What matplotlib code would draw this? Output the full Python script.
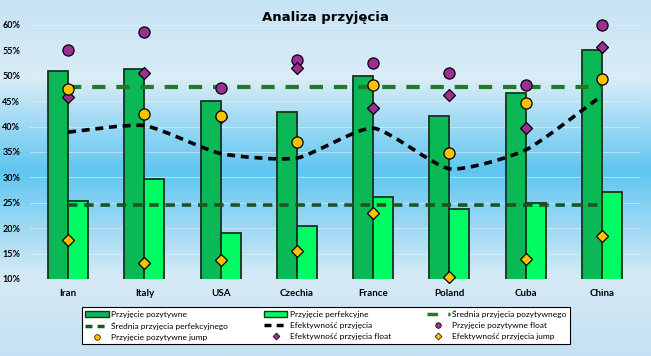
import numpy as np
import matplotlib
matplotlib.use('Agg')
from matplotlib import pyplot as plt
from matplotlib.path import Path
from matplotlib.patches import PathPatch, Patch
from matplotlib.lines import Line2D
from matplotlib.colors import LinearSegmentedColormap

countries = ['Iran', 'Italy', 'USA', 'Czechia', 'France', 'Poland', 'Cuba', 'China']
pozytywne = [50.9, 51.3, 45.0, 42.8, 50.0, 42.0, 46.6, 55.1]
perfekcyjne = [25.4, 29.7, 19.1, 20.4, 26.2, 23.8, 25.0, 27.2]
srednia_poz = 47.8
srednia_perf = 24.6
efektywnosc = [38.9, 40.2, 34.7, 33.8, 39.7, 31.7, 35.4, 46.1]
poz_float = [55.0, 58.6, 47.6, 53.1, 52.6, 50.6, 48.1, 60.0]
poz_jump = [47.4, 42.5, 42.1, 37.0, 48.1, 34.9, 44.6, 49.4]
ef_float = [45.9, 50.5, 41.8, 51.5, 43.6, 46.2, 39.7, 55.6]
ef_jump = [17.6, 13.1, 13.7, 15.5, 23.0, 10.45, 13.9, 18.4]
yticks = [10, 15, 20, 25, 30, 35, 40, 45, 50, 55, 60]

plt.rcParams['font.family'] = ['Lato', 'DejaVu Sans']

c_dark = '#0bb856'
c_light = '#00fb62'
c_edge = '#17331f'
c_purple = '#9b2f93'
c_gold = '#ffc000'

fig = plt.figure(figsize=(6.51, 3.56), dpi=100)

# gradient background
bg = fig.add_axes([0, 0, 1, 1], zorder=-10)
bg.axis('off')
cmap = LinearSegmentedColormap.from_list('bg', [
    (0.0, '#c6e3f4'), (0.22, '#daecf7'), (0.48, '#5fc6f0'),
    (0.78, '#d6eaf6'), (1.0, '#c4e2f3')])
grad = np.linspace(0, 1, 256).reshape(-1, 1)
bg.imshow(grad, aspect='auto', cmap=cmap, extent=[0, 1, 0, 1], origin='upper')
bg.set_xlim(0, 1)
bg.set_ylim(0, 1)

ax = fig.add_axes([30/651, 1-279/356, 610/651, 254/356])
ax.patch.set_alpha(0)
x = np.arange(len(countries))
w = 0.262

ax.bar(x - w/2, pozytywne, width=w, color=c_dark, edgecolor=c_edge, linewidth=1.3, zorder=2)
ax.bar(x + w/2, perfekcyjne, width=w, color=c_light, edgecolor=c_edge, linewidth=1.3, zorder=2)

ax.plot(x, [srednia_poz]*len(x), color='#237a26', lw=3, dashes=(3.2, 2.6), zorder=3)
ax.plot(x, [srednia_perf]*len(x), color='#1c5424', lw=2.6, dashes=(2.6, 1.9), zorder=3)

# smoothed line, bezier through the points
pts = np.column_stack([x, efektywnosc]).astype(float)
verts = [tuple(pts[0])]
codes = [Path.MOVETO]
for i in range(len(pts) - 1):
    p0 = pts[i-1] if i > 0 else pts[i]
    p1, p2 = pts[i], pts[i+1]
    p3 = pts[i+2] if i + 2 < len(pts) else pts[i+1]
    c1 = p1 + (p2 - p0) / 10
    c2 = p2 - (p3 - p1) / 10
    verts += [tuple(c1), tuple(c2), tuple(p2)]
    codes += [Path.CURVE4] * 3
ax.add_patch(PathPatch(Path(verts, codes), fill=False, edgecolor='black', lw=2.6,
                       linestyle=(0, (2.2, 1.6)), zorder=4))

mk = dict(linestyle='none', markeredgecolor='black', markeredgewidth=0.9, zorder=5, clip_on=False)
ax.plot(x, poz_float, marker='o', markersize=8, color=c_purple, **mk)
ax.plot(x, ef_float, marker='D', markersize=6.5, color=c_purple, **mk)
ax.plot(x, poz_jump, marker='o', markersize=8, color=c_gold, **mk)
ax.plot(x, ef_jump, marker='D', markersize=6.5, color=c_gold, **mk)

ax.set_xlim(-0.5, len(x) - 0.5)
ax.set_ylim(10, 60)
ax.set_yticks(yticks)
ax.set_yticklabels([f'{v}%' for v in yticks], fontsize=6.5, fontweight='bold')
ax.set_xticks(x)
ax.set_xticklabels(countries, fontsize=7, fontweight='bold')
ax.tick_params(length=0, axis='y', pad=7)
ax.tick_params(length=0, axis='x', pad=7)
for s in ax.spines.values():
    s.set_visible(False)
ax.grid(axis='y', color='#e4f2fb', lw=0.7, alpha=0.6, zorder=0)
ax.set_axisbelow(True)

fig.text(0.5, 1-17/356, 'Analiza przyjęcia', ha='center', va='center',
         fontsize=9.5, fontweight='bold', family='DejaVu Sans')

handles = [
    Patch(facecolor=c_dark, edgecolor=c_edge),
    Patch(facecolor=c_light, edgecolor=c_edge),
    Line2D([], [], color='#237a26', lw=2.5, dashes=(3, 3)),
    Line2D([], [], color='#1c5424', lw=2.5, dashes=(2, 1.5)),
    Line2D([], [], color='black', lw=2.5, dashes=(2, 1.5)),
    Line2D([], [], marker='o', color=c_purple, markeredgecolor='black', markeredgewidth=0.5, markersize=4, linestyle='none'),
    Line2D([], [], marker='o', color=c_gold, markeredgecolor='black', markeredgewidth=0.5, markersize=4, linestyle='none'),
    Line2D([], [], marker='D', color=c_purple, markeredgecolor='black', markeredgewidth=0.5, markersize=3.5, linestyle='none'),
    Line2D([], [], marker='D', color=c_gold, markeredgecolor='black', markeredgewidth=0.5, markersize=3.5, linestyle='none'),
]
labels = ['Przyjęcie pozytywne', 'Przyjęcie perfekcyjne', 'Średnia przyjęcia pozytywnego',
          'Średnia przyjęcia perfekcyjnego', 'Efektywność przyjęcia', 'Przyjęcie pozytywne float',
          'Przyjęcie pozytywne jump', 'Efektywność przyjęcia float', 'Efektywność przyjęcia jump']
order = [0, 3, 6, 1, 4, 7, 2, 5, 8]
leg = fig.legend([handles[i] for i in order], [labels[i] for i in order], ncol=3,
                 loc='center', bbox_to_anchor=(82/651, 1-346/356, 488/651, 41/356),
                 mode='expand', fontsize=6, frameon=True, fancybox=False,
                 borderpad=0.4, labelspacing=0.45, handlelength=2.8, handletextpad=0.3,
                 columnspacing=1.0, borderaxespad=0)
leg.get_frame().set_edgecolor('black')
leg.get_frame().set_linewidth(0.8)
leg.get_frame().set_facecolor('white')
leg.get_frame().set_alpha(1)

fig.savefig('out.png', dpi=100)
